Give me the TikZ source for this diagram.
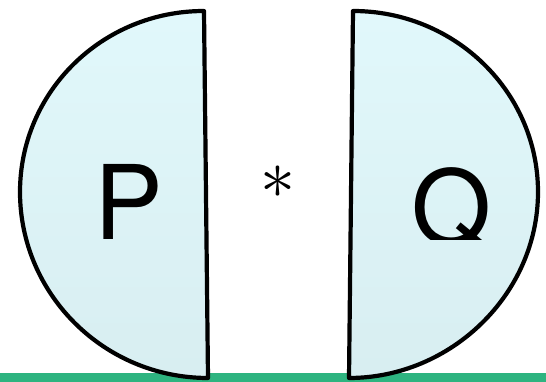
\documentclass[tikz,border=0pt]{standalone}
\usepackage{fontspec}
\setmainfont{TeX Gyre Heros}
\newfontfamily\letterfont{TeX Gyre Heros}
\definecolor{barGreen}{RGB}{46,180,128}
\definecolor{fillTop}{RGB}{225,248,251}
\definecolor{fillBot}{RGB}{216,238,241}
\begin{document}
\begin{tikzpicture}[x=1pt,y=1pt,
  halfdisc/.style={draw=black,line width=4.2pt,line join=round,top color=fillTop,bottom color=fillBot},
  bigletter/.style={inner sep=0pt,anchor=base,font=\letterfont\fontsize{103}{103}\selectfont}]
\useasboundingbox (0,0) rectangle (546,382);
\fill[barGreen] (0,0) rectangle (546,9);
% left half disc P
\draw[halfdisc] (204,371) -- (208,4)
  .. controls (104,4) and (20,88) .. (20,190)
  .. controls (20,290) and (102,371) .. (204,371) -- cycle;
% right half disc Q
\draw[halfdisc] (353,371) -- (349,4)
  .. controls (451,4) and (538,88) .. (538,190)
  .. controls (538,290) and (455,371) .. (353,371) -- cycle;
\node[bigletter] (p) at (129,142) {P};
\begin{scope}
  \clip (360,142) rectangle (530,260);
  \node[bigletter] (q) at (452,137) {Q};
\end{scope}
\node[inner sep=0pt] (star) at (278,200) {\scalebox{7}{$\ast$}};
\end{tikzpicture}
\end{document}
